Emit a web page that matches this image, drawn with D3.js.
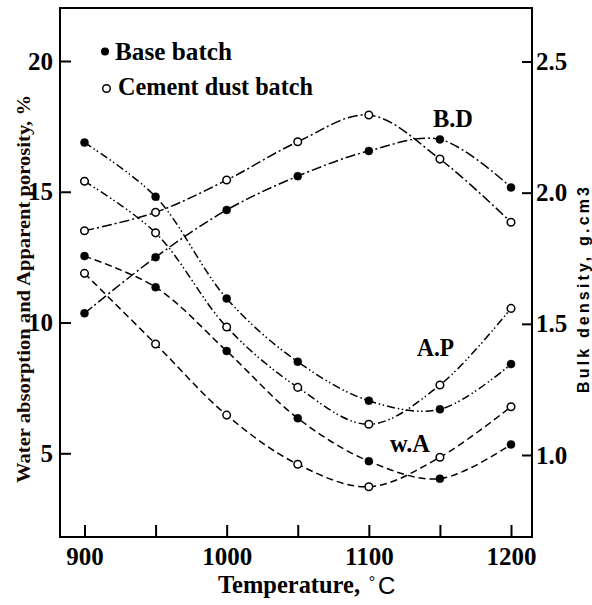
<!DOCTYPE html>
<html><head><meta charset="utf-8">
<script src="https://cdn.jsdelivr.net/npm/d3@7"></script>
<style>body{margin:0;background:#fff}svg{display:block}</style>
</head><body>
<svg id="c" width="592" height="605"></svg>
<script>
const temps = [900, 950, 1000, 1050, 1100, 1150, 1200];
const apBase   = [16.88, 14.81, 10.92, 8.50, 7.01, 6.68, 8.41];
const apCement = [15.40, 13.43, 9.83, 7.52, 6.11, 7.61, 10.54];
const waBase   = [12.54, 11.35, 8.91, 6.34, 4.70, 4.03, 5.34];
const waCement = [11.88, 9.18, 6.46, 4.58, 3.72, 4.85, 6.78];
const bdBase   = [1.540, 1.754, 1.934, 2.063, 2.159, 2.203, 2.020];
const bdCement = [1.855, 1.925, 2.048, 2.194, 2.296, 2.128, 1.887];
const leftTicks = [5, 10, 15, 20];
const rightTicks = [1.0, 1.5, 2.0, 2.5];
const xTicks = [900, 950, 1000, 1050, 1100, 1150, 1200];
const xLabels = [900, 1000, 1100, 1200];
const legendLabels = ["Base batch", "Cement dust batch"];

const serif = '"Liberation Serif","Times New Roman",serif';
const sans = '"Liberation Sans",Arial,sans-serif';
const L = 60, R = 532, T = 8, B = 537;
const svg = d3.select("#c");

const x = d3.scaleLinear().domain([900, 1200]).range([84.5, 511]);
const y = d3.scaleLinear().domain([20, 5]).range([61, 453.3]);
const yR = d3.scaleLinear().domain([2.5, 1.0]).range([61.5, 455]);

// frame
svg.append("path").attr("d", `M${L},${T}H${R}V${B}H${L}Z`)
  .attr("fill", "none").attr("stroke", "#000").attr("stroke-width", 2);

// axes
const gl = svg.append("g").attr("transform", `translate(${L},0)`)
  .call(d3.axisLeft(y).tickValues(leftTicks).tickSizeInner(-11).tickSizeOuter(0).tickPadding(7).tickFormat(d3.format("d")));
const gr = svg.append("g").attr("transform", `translate(${R},0)`)
  .call(d3.axisRight(yR).tickValues(rightTicks).tickSizeInner(-10).tickSizeOuter(0).tickPadding(4).tickFormat(d3.format(".1f")));
const gb = svg.append("g").attr("transform", `translate(0,${B})`)
  .call(d3.axisBottom(x).tickValues(xTicks).tickSizeInner(-12).tickSizeOuter(0).tickPadding(10)
    .tickFormat(d => xLabels.includes(d) ? d : ""));
[gl, gr, gb].forEach(g => {
  g.select(".domain").remove();
  g.selectAll(".tick line").attr("stroke", "#000").attr("stroke-width", 2);
  g.selectAll(".tick text").attr("fill", "#000").style("font-family", serif)
    .style("font-weight", "bold").style("font-size", "25px");
});

// series
const series = [
  {v: bdBase, sc: yR, filled: true, dash: "10,3,2,3"},
  {v: bdCement, sc: yR, filled: false, dash: "10,3,2,3"},
  {v: apBase, sc: y, filled: true, dash: "8,3,1.5,2.5,1.5,3"},
  {v: apCement, sc: y, filled: false, dash: "8,3,1.5,2.5,1.5,3"},
  {v: waBase, sc: y, filled: true, dash: "7,4"},
  {v: waCement, sc: y, filled: false, dash: "7,4"}
];
series.forEach(s => {
  const pts = temps.map((t, i) => [x(t), s.sc(s.v[i])]);
  svg.append("path").attr("d", d3.line().curve(d3.curveCatmullRom.alpha(0.5))(pts))
    .attr("fill", "none").attr("stroke", "#000").attr("stroke-width", 1.5)
    .attr("stroke-dasharray", s.dash);
});
series.forEach(s => {
  temps.forEach((t, i) => {
    svg.append("circle").attr("cx", x(t)).attr("cy", s.sc(s.v[i]))
      .attr("r", s.filled ? 4 : 3.8)
      .attr("fill", s.filled ? "#000" : "#fff")
      .attr("stroke", "#000").attr("stroke-width", s.filled ? 0.5 : 1.5);
  });
});

// legend
svg.append("circle").attr("cx", 105).attr("cy", 51.5).attr("r", 4).attr("fill", "#000");
svg.append("circle").attr("cx", 106.5).attr("cy", 88.5).attr("r", 3.8).attr("fill", "#fff")
  .attr("stroke", "#000").attr("stroke-width", 1.5);
svg.append("text").attr("x", 115).attr("y", 60).text(legendLabels[0])
  .attr("textLength", 117).attr("lengthAdjust", "spacingAndGlyphs")
  .style("font-family", serif).style("font-weight", "bold").style("font-size", "26px");
svg.append("text").attr("x", 118).attr("y", 95).text(legendLabels[1])
  .attr("textLength", 195).attr("lengthAdjust", "spacingAndGlyphs")
  .style("font-family", serif).style("font-weight", "bold").style("font-size", "26px");

// annotations
const ann = [["B.D", 433, 127, 40], ["A.P", 417, 356, 37], ["w.A", 390, 452, 40]];
ann.forEach(a => svg.append("text").attr("x", a[1]).attr("y", a[2]).text(a[0])
  .attr("textLength", a[3]).attr("lengthAdjust", "spacingAndGlyphs")
  .style("font-family", serif).style("font-weight", "bold").style("font-size", "25px"));

// x title
svg.append("text").attr("x", 218).attr("y", 593).text("Temperature,")
  .attr("textLength", 142).attr("lengthAdjust", "spacingAndGlyphs")
  .style("font-family", serif).style("font-weight", "bold").style("font-size", "26px");
svg.append("text").attr("x", 369).attr("y", 586).text("°")
  .style("font-family", serif).style("font-weight", "bold").style("font-size", "15px");
svg.append("text").attr("x", 378).attr("y", 594).text("C")
  .style("font-family", sans).style("font-size", "24px");

// left title
svg.append("text").attr("transform", "translate(30,289) rotate(-90)")
  .attr("text-anchor", "middle").text("Water absorption and Apparent porosity, %")
  .attr("textLength", 388).attr("lengthAdjust", "spacingAndGlyphs")
  .attr("fill", "#1a0505")
  .style("font-family", serif).style("font-weight", "bold").style("font-size", "19px");

// right title
svg.append("text").attr("transform", "translate(589,290) rotate(-90)")
  .attr("text-anchor", "middle").text("Bulk density, g.cm3")
  .attr("textLength", 206).attr("lengthAdjust", "spacing")
  .attr("fill", "#000")
  .style("font-family", sans).style("font-weight", "bold").style("font-size", "16px");
</script>
</body></html>
